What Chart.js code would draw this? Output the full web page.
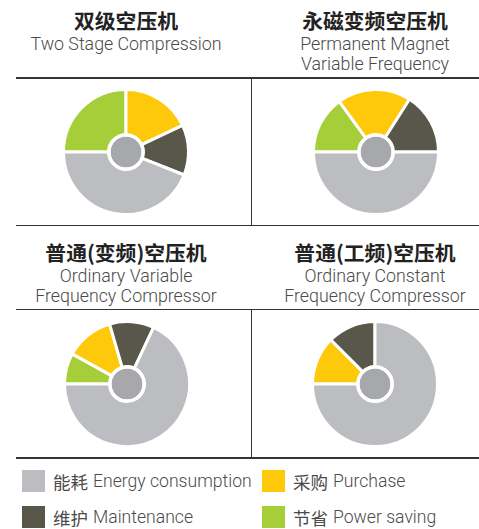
<!DOCTYPE html>
<html>
<head>
<meta charset="utf-8">
<script src="https://cdn.jsdelivr.net/npm/chart.js@4/dist/chart.umd.min.js"></script>
<style>
  html, body { margin:0; padding:0; background:#fff; width:479px; height:529px; overflow:hidden; }
  body { position:relative; font-family: Roboto, "Noto Sans", sans-serif; }
  .title { position:absolute; width:250px; text-align:center; font-family:"Noto Sans CJK SC", sans-serif; font-weight:700; font-size:20.8px; line-height:24px; color:#222; }
  .sub { position:absolute; width:250px; text-align:center; font-family: Roboto, "Noto Sans", sans-serif; font-weight:300; font-size:17.8px; line-height:19.5px; color:#4a4a4a; }
  .hl { position:absolute; height:1.6px; background:#333; }
  .vl { position:absolute; width:1.6px; background:#333; }
  canvas { position:absolute; }
  .lg { position:absolute; display:flex; align-items:center; font-family: Roboto, "Noto Sans CJK SC", sans-serif; font-weight:300; font-size:17.6px; color:#4a4a4a; white-space:nowrap; }
  .lg .sw { width:23px; height:22px; margin-right:8px; flex:none; }
  .lg .zh { font-family:"Noto Sans CJK SC", sans-serif; font-weight:400; margin-right:5px; font-size:17.5px; }
</style>
</head>
<body>
<div id="root"></div>
<script>
// ---- data ----
const categories = ['节省 Power saving', '采购 Purchase', '维护 Maintenance', '能耗 Energy consumption'];
const categoryColors = ['#a6ce39', '#fec80b', '#59574a', '#bcbdc0'];
const legendOrder = [3, 1, 2, 0];

const titlesZh = ['双级空压机', '永磁变频空压机', '普通(变频)空压机', '普通(工频)空压机'];
const titlesEn = [
  ['Two Stage Compression'],
  ['Permanent Magnet', 'Variable Frequency'],
  ['Ordinary Variable', 'Frequency Compressor'],
  ['Ordinary Constant', 'Frequency Compressor']
];

const twoStageValues = [25, 18, 13, 44];
const permanentMagnetValues = [15, 19, 16, 50];
const ordinaryVariableValues = [8, 12.5, 11.5, 68];
const ordinaryConstantValues = [0, 12.5, 12.5, 75];
const seriesValues = [twoStageValues, permanentMagnetValues, ordinaryVariableValues, ordinaryConstantValues];

// ---- layout ----
const root = document.getElementById('root');
function el(cls, css, html) {
  const d = document.createElement('div');
  d.className = cls;
  Object.assign(d.style, css);
  if (html !== undefined) d.innerHTML = html;
  root.appendChild(d);
  return d;
}

const panels = [
  { tx: 1, ty: 8,   sy: 34,  cx: 126,   cy: 152 },
  { tx: 250, ty: 8, sy: 34,  cx: 375.5, cy: 151.5 },
  { tx: 1, ty: 240, sy: 266, cx: 126.5, cy: 384 },
  { tx: 250, ty: 240, sy: 266, cx: 375,  cy: 384 }
];

panels.forEach((p, i) => {
  el('title', { left: p.tx + 'px', top: p.ty + 'px' }, titlesZh[i]);
  el('sub', { left: p.tx + 'px', top: p.sy + 'px' }, titlesEn[i].join('<br>'));
});

// lines
el('hl', { left: '16px', top: '77px', width: '470px' });
el('vl', { left: '250.5px', top: '77px', height: '148px' });
el('hl', { left: '16px', top: '224.5px', width: '470px' });
el('hl', { left: '16px', top: '308.5px', width: '470px' });
el('vl', { left: '250.5px', top: '308.5px', height: '150px' });
el('hl', { left: '16px', top: '457px', width: '470px' });

// legend
const legendPos = [[22, 470], [262, 470], [22, 506], [262, 506]];
legendOrder.forEach((ci, k) => {
  const [x, y] = legendPos[k];
  const parts = categories[ci].split(' ');
  const zh = parts.shift();
  el('lg', { left: x + 'px', top: y + 'px', height: '22px' },
    '<span class="sw" style="background:' + categoryColors[ci] + '"></span>' +
    '<span class="zh">' + zh + '</span><span>' + parts.join(' ') + '</span>');
});

// charts
const SIZE = 130;
panels.forEach((p, i) => {
  const c = document.createElement('canvas');
  c.width = SIZE; c.height = SIZE;
  c.style.left = (p.cx - SIZE / 2) + 'px';
  c.style.top = (p.cy - SIZE / 2) + 'px';
  c.style.width = SIZE + 'px'; c.style.height = SIZE + 'px';
  root.appendChild(c);
  new Chart(c, {
    type: 'pie',
    data: {
      labels: categories,
      datasets: [
        {
          data: seriesValues[i],
          backgroundColor: categoryColors,
          borderColor: '#ffffff',
          borderWidth: 3,
          weight: 45
        },
        {
          data: [1],
          backgroundColor: ['#ffffff'],
          borderWidth: 0,
          weight: 2
        },
        {
          data: [1],
          backgroundColor: ['#a7a8ab'],
          borderWidth: 0,
          weight: 15.5
        }
      ]
    },
    options: {
      responsive: false,
      animation: false,
      events: [],
      rotation: -90,
      cutout: 0,
      radius: 62.5,
      layout: { padding: 0 },
      plugins: { legend: { display: false }, tooltip: { enabled: false } }
    }
  });
});
</script>
</body>
</html>
